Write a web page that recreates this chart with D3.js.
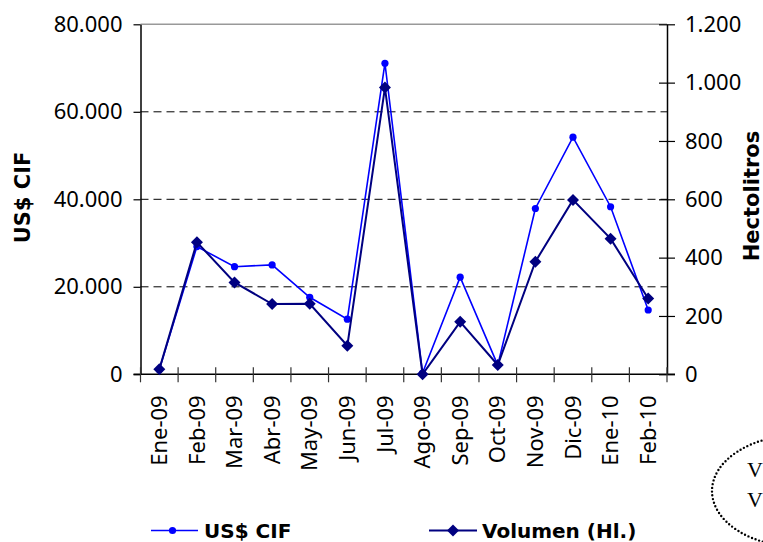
<!DOCTYPE html>
<html>
<head>
<meta charset="utf-8">
<script src="https://cdn.jsdelivr.net/npm/d3@7"></script>
<style>
  html, body { margin: 0; padding: 0; background: #fff; }
  svg { display: block; }
  .tick text { font-family: "Noto Sans", sans-serif; font-size: 22px; fill: #000; }
</style>
</head>
<body>
<svg id="chart" width="763" height="542"></svg>
<script>
const categories = ["Ene-09","Feb-09","Mar-09","Abr-09","May-09","Jun-09","Jul-09","Ago-09","Sep-09","Oct-09","Nov-09","Dic-09","Ene-10","Feb-10"];
const cifValues = [1100, 29200, 24600, 25000, 17600, 12600, 71100, 300, 22200, 2100, 37900, 54200, 38300, 14700];
const volValues = [17, 453, 315, 241, 242, 98, 983, 0, 180, 32, 386, 598, 465, 260];
const leftTicks = [0, 20000, 40000, 60000, 80000];
const rightTicks = [0, 200, 400, 600, 800, 1000, 1200];
const gridTicks = [20000, 40000, 60000];

const fmt = v => d3.format(",")(v).replace(/,/g, ".");

const svg = d3.select("#chart");
const L = 140.5, R = 667, T = 24.3, B = 374.3;

const x = d3.scaleBand().domain(categories).range([L, R]);
const yL = d3.scaleLinear().domain([0, 80000]).range([B, T]);
const yR = d3.scaleLinear().domain([0, 1200]).range([B, T]);
const cx = d => x(d) + x.bandwidth() / 2;

// gridlines
svg.append("g").selectAll("line").data(gridTicks).join("line")
  .attr("x1", L).attr("x2", R)
  .attr("y1", d => yL(d)).attr("y2", d => yL(d))
  .attr("stroke", "#000").attr("stroke-width", 1)
  .attr("stroke-dasharray", "8,5");
// top gray line
svg.append("line").attr("x1", L).attr("x2", R)
  .attr("y1", yL(80000)).attr("y2", yL(80000))
  .attr("stroke", "#999").attr("stroke-width", 1.5);

// left axis
const gL = svg.append("g").attr("transform", `translate(${L},0)`)
  .call(d3.axisLeft(yL).tickValues(leftTicks).tickFormat(fmt).tickSize(7).tickSizeOuter(0).tickPadding(11));
gL.select(".domain").attr("stroke", "#000").attr("stroke-width", 1.5);
gL.selectAll(".tick line").attr("stroke", "#000").attr("stroke-width", 1.2);

// right axis
const gR = svg.append("g").attr("transform", `translate(${R},0)`)
  .call(d3.axisRight(yR).tickValues(rightTicks).tickFormat(fmt).tickSize(8).tickSizeOuter(0).tickPadding(10));
gR.select(".domain").attr("stroke", "#000").attr("stroke-width", 1.5);
gR.selectAll(".tick line").attr("x1", -8).attr("x2", 8).attr("stroke", "#000").attr("stroke-width", 1.2);

// bottom axis line & boundary ticks
svg.append("line").attr("x1", L - 7).attr("x2", R + 8).attr("y1", B).attr("y2", B)
  .attr("stroke", "#000").attr("stroke-width", 1.5);
const bounds = categories.map(c => x(c)).concat([x.range()[1]]);
svg.append("g").selectAll("line").data(bounds).join("line")
  .attr("x1", d => d).attr("x2", d => d)
  .attr("y1", B - 7).attr("y2", B + 8)
  .attr("stroke", "#333").attr("stroke-width", 1.2);

const gB = svg.append("g").attr("transform", `translate(0,${B})`)
  .call(d3.axisBottom(x).tickSize(0).tickPadding(0));
gB.select(".domain").remove();
gB.selectAll(".tick text")
  .attr("transform", "rotate(-90)")
  .attr("text-anchor", "end")
  .attr("x", -21).attr("y", 0).attr("dy", "0.35em");

// series
const lineCif = d3.line().x((d, i) => cx(categories[i])).y(d => yL(d));
const lineVol = d3.line().x((d, i) => cx(categories[i])).y(d => yR(d));

svg.append("path").datum(cifValues).attr("d", lineCif)
  .attr("fill", "none").attr("stroke", "#0000FF").attr("stroke-width", 1.6);
svg.append("g").selectAll("circle").data(cifValues).join("circle")
  .attr("cx", (d, i) => cx(categories[i])).attr("cy", d => yL(d))
  .attr("r", 3.6).attr("fill", "#0000FF");

svg.append("path").datum(volValues).attr("d", lineVol)
  .attr("fill", "none").attr("stroke", "#000080").attr("stroke-width", 2);
const diamond = s => `M0,${-s}L${s},0L0,${s}L${-s},0Z`;
svg.append("g").selectAll("path").data(volValues).join("path")
  .attr("transform", (d, i) => `translate(${cx(categories[i])},${yR(d)})`)
  .attr("d", diamond(6)).attr("fill", "#000080");

// axis titles
svg.append("text").attr("transform", `translate(23,197.5) rotate(-90)`)
  .attr("text-anchor", "middle").attr("dy", "0.35em")
  .style("font-family", "'DejaVu Sans', sans-serif").style("font-weight", "bold").style("font-size", "21px")
  .text("US$ CIF");
svg.append("text").attr("transform", `translate(751.5,196) rotate(-90)`)
  .attr("text-anchor", "middle").attr("dy", "0.35em")
  .style("font-family", "'DejaVu Sans', sans-serif").style("font-weight", "bold").style("font-size", "21px")
  .text("Hectolitros");

// legend
const lg = svg.append("g");
const ly = 530.5;
lg.append("line").attr("x1", 151).attr("x2", 198).attr("y1", ly).attr("y2", ly)
  .attr("stroke", "#0000FF").attr("stroke-width", 1.6);
lg.append("circle").attr("cx", 172.5).attr("cy", ly).attr("r", 3.6).attr("fill", "#0000FF");
lg.append("text").attr("x", 204).attr("y", ly).attr("dy", "0.36em")
  .style("font-family", "'DejaVu Sans', sans-serif").style("font-weight", "bold").style("font-size", "20px")
  .text("US$ CIF");
lg.append("line").attr("x1", 429).attr("x2", 477).attr("y1", ly).attr("y2", ly)
  .attr("stroke", "#000080").attr("stroke-width", 2);
lg.append("path").attr("transform", `translate(453,${ly})`).attr("d", diamond(6)).attr("fill", "#000080");
lg.append("text").attr("x", 482).attr("y", ly).attr("dy", "0.36em")
  .style("font-family", "'DejaVu Sans', sans-serif").style("font-weight", "bold").style("font-size", "20px")
  .text("Volumen (Hl.)");

// dotted ellipse annotation at bottom-right
svg.append("ellipse").attr("cx", 800).attr("cy", 491).attr("rx", 88).attr("ry", 56)
  .attr("fill", "none").attr("stroke", "#000").attr("stroke-width", 2.4)
  .attr("stroke-linecap", "round").attr("stroke-dasharray", "0,3.8");
svg.append("text").attr("x", 747).attr("y", 477)
  .style("font-family", "'Liberation Serif', serif").style("font-size", "22px").text("V");
svg.append("text").attr("x", 747).attr("y", 507)
  .style("font-family", "'Liberation Serif', serif").style("font-size", "22px").text("V");
</script>
</body>
</html>
